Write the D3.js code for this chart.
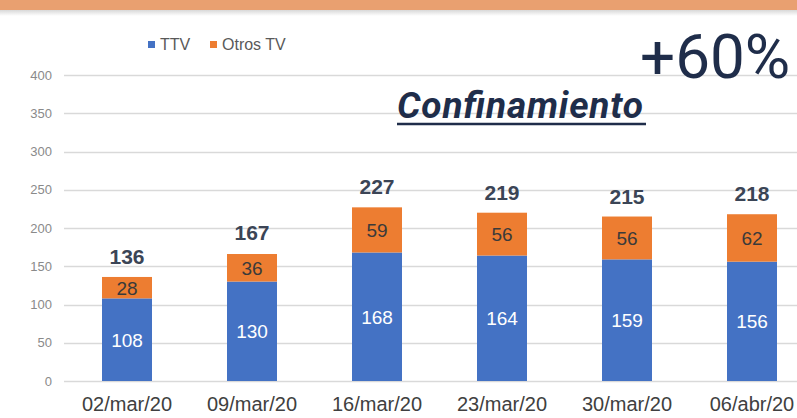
<!DOCTYPE html>
<html>
<head>
<meta charset="utf-8">
<script src="https://cdn.jsdelivr.net/npm/d3@7"></script>
<style>
  body { margin: 0; background: #fff; }
  svg { display: block; }
</style>
</head>
<body>
<div id="chart"></div>
<script>
// data
var weeks = ["02/mar/20", "09/mar/20", "16/mar/20", "23/mar/20", "30/mar/20", "06/abr/20"];
var ttv = [108, 130, 168, 164, 159, 156];
var otros = [28, 36, 59, 56, 56, 62];
var totals = [136, 167, 227, 219, 215, 218];
var yTicks = [0, 50, 100, 150, 200, 250, 300, 350, 400];

var W = 797, H = 418;
var blue = "#4472C4", orange = "#ED7D31", navy = "#1f2d4a";
var sans = "Liberation Sans, Arial, sans-serif";

var svg = d3.select("#chart").append("svg").attr("width", W).attr("height", H);

// top band + shadow
var defs = svg.append("defs");
var grad = defs.append("linearGradient").attr("id", "shade").attr("x1", 0).attr("x2", 0).attr("y1", 0).attr("y2", 1);
grad.append("stop").attr("offset", "0%").attr("stop-color", "#d8d8d8");
grad.append("stop").attr("offset", "100%").attr("stop-color", "#ffffff");
svg.append("rect").attr("x", 0).attr("y", 10).attr("width", W).attr("height", 6).attr("fill", "url(#shade)");
svg.append("rect").attr("x", 0).attr("y", 0).attr("width", W).attr("height", 10).attr("fill", "#E9A070");

var x = d3.scaleBand().domain(weeks).range([64.5, 814.5]).paddingInner(0.6).paddingOuter(0.3);
var y = d3.scaleLinear().domain([0, 400]).range([381, 75]);

// gridlines
svg.append("g")
    .selectAll("line")
    .data(yTicks)
    .enter()
    .append("line")
    .attr("x1", 64).attr("x2", W)
    .attr("y1", function(d){ return Math.round(y(d)) + 0.5; })
    .attr("y2", function(d){ return Math.round(y(d)) + 0.5; })
    .attr("stroke", "#d9d9d9").attr("stroke-width", 1.5);

// y labels
svg.append("g")
    .selectAll("text")
    .data(yTicks)
    .enter()
    .append("text")
    .attr("x", 52)
    .attr("y", function(d){ return y(d) + 4.5; })
    .attr("text-anchor", "end")
    .attr("font-family", sans)
    .attr("font-size", 13)
    .attr("fill", "#8a8a8a")
    .text(function(d){ return d; });

// bars
var g = svg.append("g");
weeks.forEach(function(wk, i){
    var bx = x(wk), bw = x.bandwidth();
    g.append("rect")
        .attr("x", bx).attr("width", bw)
        .attr("y", y(ttv[i])).attr("height", y(0) - y(ttv[i]))
        .attr("fill", blue);
    g.append("rect")
        .attr("x", bx).attr("width", bw)
        .attr("y", y(ttv[i] + otros[i])).attr("height", y(ttv[i]) - y(ttv[i] + otros[i]))
        .attr("fill", orange);
    var cx = bx + bw / 2;
    g.append("text")
        .attr("x", cx).attr("y", (y(0) + y(ttv[i])) / 2 + 7)
        .attr("text-anchor", "middle")
        .attr("font-family", sans)
        .attr("font-size", 19).attr("fill", "#fff")
        .text(ttv[i]);
    g.append("text")
        .attr("x", cx).attr("y", (y(ttv[i]) + y(ttv[i] + otros[i])) / 2 + 7)
        .attr("text-anchor", "middle")
        .attr("font-family", sans)
        .attr("font-size", 19).attr("fill", "#3a3a3a")
        .text(otros[i]);
    g.append("text")
        .attr("x", cx).attr("y", y(totals[i]) - 13)
        .attr("text-anchor", "middle")
        .attr("font-family", sans)
        .attr("font-weight", "bold")
        .attr("font-size", 21).attr("fill", "#3b4556")
        .text(totals[i]);
});

// x labels
svg.append("g")
    .selectAll("text")
    .data(weeks)
    .enter()
    .append("text")
    .attr("x", function(d){ return x(d) + x.bandwidth() / 2; })
    .attr("y", 411)
    .attr("text-anchor", "middle")
    .attr("font-family", sans)
    .attr("font-size", 20)
    .attr("fill", "#404040")
    .text(function(d){ return d; });

// legend
var leg = svg.append("g").attr("font-family", sans).attr("font-size", 16).attr("fill", "#595959");
leg.append("rect").attr("x", 148).attr("y", 41).attr("width", 7).attr("height", 7).attr("fill", blue);
leg.append("text").attr("x", 160).attr("y", 50).text("TTV");
leg.append("rect").attr("x", 210).attr("y", 41).attr("width", 7).attr("height", 7).attr("fill", orange);
leg.append("text").attr("x", 222).attr("y", 50).text("Otros TV");

// annotations
svg.append("text")
    .attr("x", 640).attr("y", 78)
    .attr("font-family", "Roboto, sans-serif")
    .attr("font-size", 62)
    .attr("fill", navy)
    .text("+60%");
svg.append("text")
    .attr("x", 397).attr("y", 118)
    .attr("font-family", "Roboto, sans-serif")
    .attr("font-weight", "bold")
    .attr("font-style", "italic")
    .attr("font-size", 37)
    .attr("textLength", 246)
    .attr("fill", navy)
    .text("Confinamiento");
svg.append("line")
    .attr("x1", 397).attr("x2", 646)
    .attr("y1", 124).attr("y2", 124)
    .attr("stroke", navy).attr("stroke-width", 2.5);
</script>
</body>
</html>
